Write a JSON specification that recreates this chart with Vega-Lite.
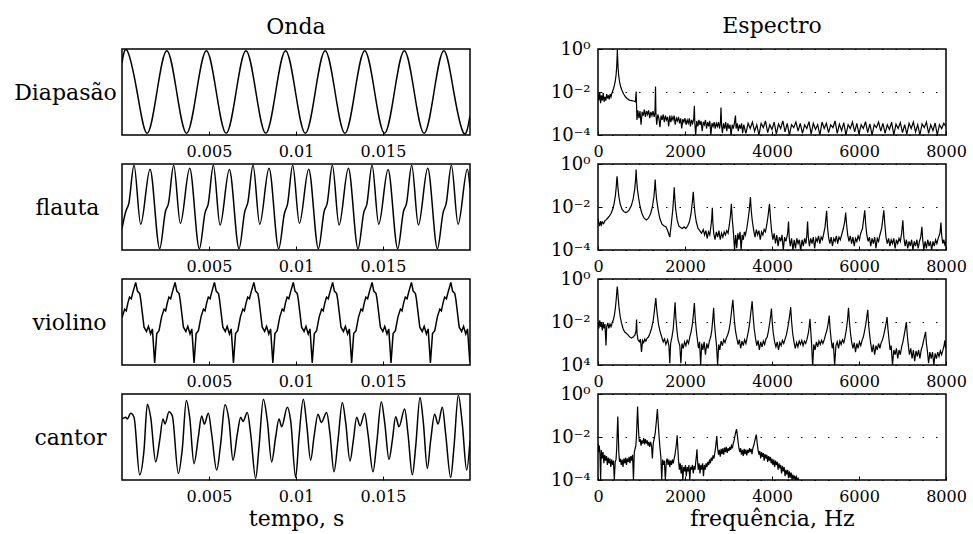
{
"$schema": "https://vega.github.io/schema/vega-lite/v6.json",
"background": "white",
"padding": {"left": 12, "top": 14, "right": 4, "bottom": 4},
"columns": 2,
"spacing": {"row": 29, "column": 128},
"bounds": "flush",
"config": {
 "font": "DejaVu Serif",
 "view": {"stroke": "black", "strokeWidth": 1.5},
 "axis": {"domain": false, "grid": false, "labelColor": "black", "labelFont": "DejaVu Serif", "labelFontSize": 16, "titleFont": "DejaVu Serif", "titleFontSize": 22, "titleFontWeight": "normal", "titleColor": "black", "tickColor": "black", "tickSize": -4, "tickWidth": 1, "labelFlush": false, "labelPadding": 12},
 "title": {"font": "DejaVu Serif", "fontSize": 22, "fontWeight": "normal", "color": "black"}
},
"datasets": {
 "diap": [{"ms":0,"y":0.67},{"ms":0.3,"y":0.96},{"ms":0.869,"y":0},{"ms":1.438,"y":-0.96},{"ms":2.006,"y":0},{"ms":2.575,"y":0.96},{"ms":3.144,"y":0},{"ms":3.713,"y":-0.96},{"ms":4.281,"y":0},{"ms":4.85,"y":0.96},{"ms":5.419,"y":0},{"ms":5.988,"y":-0.96},{"ms":6.556,"y":0},{"ms":7.125,"y":0.96},{"ms":7.694,"y":0},{"ms":8.263,"y":-0.96},{"ms":8.831,"y":0},{"ms":9.4,"y":0.96},{"ms":9.969,"y":0},{"ms":10.538,"y":-0.96},{"ms":11.106,"y":0},{"ms":11.675,"y":0.96},{"ms":12.244,"y":0},{"ms":12.813,"y":-0.96},{"ms":13.381,"y":0},{"ms":13.95,"y":0.96},{"ms":14.519,"y":0},{"ms":15.088,"y":-0.96},{"ms":15.656,"y":0},{"ms":16.225,"y":0.96},{"ms":16.794,"y":0},{"ms":17.363,"y":-0.96},{"ms":17.931,"y":0},{"ms":18.5,"y":0.96},{"ms":19.069,"y":0},{"ms":19.638,"y":-0.96},{"ms":20,"y":-0.55}],
 "flauta": [{"ms":0,"y":-0.5},{"ms":0.22,"y":-0.1},{"ms":0.39,"y":0.08},
  {"ms":0.69,"y":0.97},{"ms":1.075,"y":-0.4},{"ms":1.61,"y":0.88},{"ms":2.167,"y":-0.97},{"ms":2.5,"y":-0.1},{"ms":2.67,"y":0.08},
  {"ms":2.97,"y":0.97},{"ms":3.355,"y":-0.38},{"ms":3.89,"y":0.9},{"ms":4.447,"y":-0.97},{"ms":4.78,"y":-0.12},{"ms":4.95,"y":0.06},
  {"ms":5.25,"y":0.97},{"ms":5.635,"y":-0.42},{"ms":6.17,"y":0.87},{"ms":6.727,"y":-0.97},{"ms":7.06,"y":-0.1},{"ms":7.23,"y":0.1},
  {"ms":7.53,"y":0.97},{"ms":7.915,"y":-0.4},{"ms":8.45,"y":0.9},{"ms":9.007,"y":-0.97},{"ms":9.34,"y":-0.14},{"ms":9.51,"y":0.06},
  {"ms":9.81,"y":0.97},{"ms":10.195,"y":-0.38},{"ms":10.73,"y":0.88},{"ms":11.287,"y":-0.97},{"ms":11.62,"y":-0.1},{"ms":11.79,"y":0.08},
  {"ms":12.09,"y":0.97},{"ms":12.475,"y":-0.42},{"ms":13.01,"y":0.9},{"ms":13.567,"y":-0.97},{"ms":13.9,"y":-0.12},{"ms":14.07,"y":0.06},
  {"ms":14.37,"y":0.97},{"ms":14.755,"y":-0.4},{"ms":15.29,"y":0.87},{"ms":15.847,"y":-0.97},{"ms":16.18,"y":-0.1},{"ms":16.35,"y":0.08},
  {"ms":16.65,"y":0.97},{"ms":17.035,"y":-0.42},{"ms":17.57,"y":0.9},{"ms":18.127,"y":-0.97},{"ms":18.46,"y":-0.12},{"ms":18.63,"y":0.08},
  {"ms":18.93,"y":0.97},{"ms":19.315,"y":-0.4},{"ms":19.85,"y":0.88},{"ms":20,"y":0.45}],
 "violino": [{"ms":0,"y":0.1},{"ms":0.153,"y":0.3},{"ms":0.243,"y":0.26},{"ms":0.343,"y":0.45},{"ms":0.433,"y":0.58},{"ms":0.533,"y":0.54},{"ms":0.633,"y":0.7},
  {"ms":0.787,"y":0.92},{"ms":0.887,"y":0.72},{"ms":1.017,"y":0.66},{"ms":1.077,"y":0.52},{"ms":1.267,"y":-0.12},{"ms":1.407,"y":-0.22},{"ms":1.517,"y":-0.1},{"ms":1.647,"y":-0.28},{"ms":1.747,"y":-0.16},{"ms":1.877,"y":-0.95},{"ms":1.997,"y":-0.27},{"ms":2.127,"y":-0.2},{"ms":2.277,"y":0.12},{"ms":2.417,"y":0.3},{"ms":2.507,"y":0.26},{"ms":2.607,"y":0.45},{"ms":2.697,"y":0.58},{"ms":2.797,"y":0.54},{"ms":2.897,"y":0.7},
  {"ms":3.051,"y":0.92},{"ms":3.151,"y":0.72},{"ms":3.281,"y":0.66},{"ms":3.341,"y":0.52},{"ms":3.531,"y":-0.12},{"ms":3.671,"y":-0.22},{"ms":3.781,"y":-0.1},{"ms":3.911,"y":-0.28},{"ms":4.011,"y":-0.16},{"ms":4.141,"y":-0.95},{"ms":4.261,"y":-0.27},{"ms":4.391,"y":-0.2},{"ms":4.541,"y":0.12},{"ms":4.681,"y":0.3},{"ms":4.771,"y":0.26},{"ms":4.871,"y":0.45},{"ms":4.961,"y":0.58},{"ms":5.061,"y":0.54},{"ms":5.161,"y":0.7},
  {"ms":5.315,"y":0.92},{"ms":5.415,"y":0.72},{"ms":5.545,"y":0.66},{"ms":5.605,"y":0.52},{"ms":5.795,"y":-0.12},{"ms":5.935,"y":-0.22},{"ms":6.045,"y":-0.1},{"ms":6.175,"y":-0.28},{"ms":6.275,"y":-0.16},{"ms":6.405,"y":-0.95},{"ms":6.525,"y":-0.27},{"ms":6.655,"y":-0.2},{"ms":6.805,"y":0.12},{"ms":6.945,"y":0.3},{"ms":7.035,"y":0.26},{"ms":7.135,"y":0.45},{"ms":7.225,"y":0.58},{"ms":7.325,"y":0.54},{"ms":7.425,"y":0.7},
  {"ms":7.579,"y":0.92},{"ms":7.679,"y":0.72},{"ms":7.809,"y":0.66},{"ms":7.869,"y":0.52},{"ms":8.059,"y":-0.12},{"ms":8.199,"y":-0.22},{"ms":8.309,"y":-0.1},{"ms":8.439,"y":-0.28},{"ms":8.539,"y":-0.16},{"ms":8.669,"y":-0.95},{"ms":8.789,"y":-0.27},{"ms":8.919,"y":-0.2},{"ms":9.069,"y":0.12},{"ms":9.209,"y":0.3},{"ms":9.299,"y":0.26},{"ms":9.399,"y":0.45},{"ms":9.489,"y":0.58},{"ms":9.589,"y":0.54},{"ms":9.689,"y":0.7},
  {"ms":9.843,"y":0.92},{"ms":9.943,"y":0.72},{"ms":10.073,"y":0.66},{"ms":10.133,"y":0.52},{"ms":10.323,"y":-0.12},{"ms":10.463,"y":-0.22},{"ms":10.573,"y":-0.1},{"ms":10.703,"y":-0.28},{"ms":10.803,"y":-0.16},{"ms":10.933,"y":-0.95},{"ms":11.053,"y":-0.27},{"ms":11.183,"y":-0.2},{"ms":11.333,"y":0.12},{"ms":11.473,"y":0.3},{"ms":11.563,"y":0.26},{"ms":11.663,"y":0.45},{"ms":11.753,"y":0.58},{"ms":11.853,"y":0.54},{"ms":11.953,"y":0.7},
  {"ms":12.107,"y":0.92},{"ms":12.207,"y":0.72},{"ms":12.337,"y":0.66},{"ms":12.397,"y":0.52},{"ms":12.587,"y":-0.12},{"ms":12.727,"y":-0.22},{"ms":12.837,"y":-0.1},{"ms":12.967,"y":-0.28},{"ms":13.067,"y":-0.16},{"ms":13.197,"y":-0.95},{"ms":13.317,"y":-0.27},{"ms":13.447,"y":-0.2},{"ms":13.597,"y":0.12},{"ms":13.737,"y":0.3},{"ms":13.827,"y":0.26},{"ms":13.927,"y":0.45},{"ms":14.017,"y":0.58},{"ms":14.117,"y":0.54},{"ms":14.217,"y":0.7},
  {"ms":14.371,"y":0.92},{"ms":14.471,"y":0.72},{"ms":14.601,"y":0.66},{"ms":14.661,"y":0.52},{"ms":14.851,"y":-0.12},{"ms":14.991,"y":-0.22},{"ms":15.101,"y":-0.1},{"ms":15.231,"y":-0.28},{"ms":15.331,"y":-0.16},{"ms":15.461,"y":-0.95},{"ms":15.581,"y":-0.27},{"ms":15.711,"y":-0.2},{"ms":15.861,"y":0.12},{"ms":16.001,"y":0.3},{"ms":16.091,"y":0.26},{"ms":16.191,"y":0.45},{"ms":16.281,"y":0.58},{"ms":16.381,"y":0.54},{"ms":16.481,"y":0.7},
  {"ms":16.635,"y":0.92},{"ms":16.735,"y":0.72},{"ms":16.865,"y":0.66},{"ms":16.925,"y":0.52},{"ms":17.115,"y":-0.12},{"ms":17.255,"y":-0.22},{"ms":17.365,"y":-0.1},{"ms":17.495,"y":-0.28},{"ms":17.595,"y":-0.16},{"ms":17.725,"y":-0.95},{"ms":17.845,"y":-0.27},{"ms":17.975,"y":-0.2},{"ms":18.125,"y":0.12},{"ms":18.265,"y":0.3},{"ms":18.355,"y":0.26},{"ms":18.455,"y":0.45},{"ms":18.545,"y":0.58},{"ms":18.645,"y":0.54},{"ms":18.745,"y":0.7},
  {"ms":18.899,"y":0.92},{"ms":18.999,"y":0.72},{"ms":19.129,"y":0.66},{"ms":19.189,"y":0.52},{"ms":19.379,"y":-0.12},{"ms":19.519,"y":-0.22},{"ms":19.629,"y":-0.1},{"ms":19.759,"y":-0.28},{"ms":19.859,"y":-0.16},{"ms":19.989,"y":-0.93},{"ms":20,"y":-0.8}],
 "cantor": [{"ms":0,"y":0.42},{"ms":0.211,"y":0.46},{"ms":0.307,"y":0.42},{"ms":0.498,"y":0.55},{"ms":0.69,"y":0.46},{"ms":1.015,"y":-0.88},{"ms":1.264,"y":-0.31},{"ms":1.456,"y":0.76},{"ms":1.647,"y":0.46},{"ms":1.935,"y":-0.58},{"ms":2.165,"y":-0.08},{"ms":2.356,"y":0.42},{"ms":2.471,"y":0.3},{"ms":2.701,"y":0.59},{"ms":2.893,"y":0.49},{"ms":3.238,"y":-0.85},{"ms":3.467,"y":-0.27},{"ms":3.697,"y":0.85},{"ms":3.889,"y":0.46},{"ms":4.138,"y":-0.62},{"ms":4.387,"y":0},{"ms":4.579,"y":0.49},{"ms":4.732,"y":0.3},{"ms":4.962,"y":0.55},{"ms":5.153,"y":0.07},{"ms":5.441,"y":-0.77},{"ms":5.67,"y":-0.16},{"ms":5.92,"y":0.75},{"ms":6.149,"y":0.38},{"ms":6.379,"y":-0.54},{"ms":6.628,"y":0.07},{"ms":6.82,"y":0.46},{"ms":6.954,"y":0.36},{"ms":7.203,"y":0.57},{"ms":7.395,"y":0.07},{"ms":7.682,"y":-0.96},{"ms":7.874,"y":-0.23},{"ms":8.123,"y":0.88},{"ms":8.352,"y":0.38},{"ms":8.601,"y":-0.58},{"ms":8.831,"y":0},{"ms":9.023,"y":0.42},{"ms":9.176,"y":0.24},{"ms":9.502,"y":0.69},{"ms":9.693,"y":0.38},{"ms":9.981,"y":-0.94},{"ms":10.172,"y":0},{"ms":10.421,"y":0.88},{"ms":10.613,"y":0.3},{"ms":10.843,"y":-0.54},{"ms":11.034,"y":0},{"ms":11.264,"y":0.53},{"ms":11.456,"y":0.34},{"ms":11.762,"y":0.57},{"ms":11.954,"y":0.07},{"ms":12.184,"y":-0.81},{"ms":12.414,"y":-0.08},{"ms":12.663,"y":0.8},{"ms":12.854,"y":0.34},{"ms":13.103,"y":-0.56},{"ms":13.295,"y":-0.08},{"ms":13.487,"y":0.46},{"ms":13.678,"y":0.26},{"ms":13.946,"y":0.55},{"ms":14.138,"y":0.07},{"ms":14.425,"y":-0.81},{"ms":14.636,"y":-0.16},{"ms":14.904,"y":0.82},{"ms":15.096,"y":0.34},{"ms":15.345,"y":-0.52},{"ms":15.536,"y":-0.08},{"ms":15.728,"y":0.47},{"ms":15.919,"y":0.24},{"ms":16.245,"y":0.65},{"ms":16.437,"y":0.07},{"ms":16.686,"y":-0.88},{"ms":16.877,"y":-0.23},{"ms":17.126,"y":0.92},{"ms":17.318,"y":0.34},{"ms":17.548,"y":-0.73},{"ms":17.739,"y":-0.08},{"ms":17.969,"y":0.53},{"ms":18.161,"y":0.3},{"ms":18.41,"y":0.69},{"ms":18.601,"y":0.07},{"ms":18.889,"y":-0.94},{"ms":19.08,"y":-0.23},{"ms":19.329,"y":0.97},{"ms":19.559,"y":0.3},{"ms":19.808,"y":-0.77},{"ms":20,"y":-0.08}],
 "esp1": [{"f":0,"a":8e-3},{"f":20,"a":4e-3},{"f":40,"a":1e-2},{"f":60,"a":3e-3},{"f":80,"a":7e-3},{"f":100,"a":4e-3},{"f":120,"a":9e-3},{"f":140,"a":3.5e-3},{"f":160,"a":6e-3},{"f":180,"a":4e-3},{"f":200,"a":8e-3},{"f":220,"a":5e-3},{"f":240,"a":7e-3},{"f":260,"a":4.5e-3},{"f":280,"a":8e-3},{"f":300,"a":6e-3},{"f":320,"a":9e-3},{"f":345,"a":1.2e-2},{"f":370,"a":1.8e-2},{"f":395,"a":3e-2},{"f":415,"a":6e-2},{"f":428,"a":0.13},{"f":438,"a":0.35},{"f":445,"a":0.95},{"f":452,"a":0.35},{"f":462,"a":0.13},{"f":475,"a":6e-2},{"f":495,"a":3e-2},{"f":520,"a":1.8e-2},{"f":550,"a":1.2e-2},{"f":590,"a":8e-3},{"f":630,"a":6e-3},{"f":670,"a":5e-3},{"f":720,"a":4.2e-3},{"f":770,"a":4e-3},{"f":820,"a":3.8e-3},{"f":860,"a":3.5e-3},{"f":878,"a":1.05e-2},{"f":885,"a":3e-3},{"f":895,"a":5e-4},{"f":915,"a":1.4e-3},{"f":940,"a":6e-4},{"f":965,"a":1.3e-3},{"f":990,"a":3e-4},{"f":1015,"a":1.2e-3},{"f":1040,"a":8e-4},{"f":1065,"a":1.5e-3},{"f":1090,"a":7e-4},{"f":1115,"a":1.3e-3},{"f":1140,"a":9e-4},{"f":1165,"a":1.4e-3},{"f":1190,"a":6e-4},{"f":1215,"a":1.2e-3},{"f":1240,"a":8e-4},{"f":1265,"a":1.3e-3},{"f":1290,"a":7e-4},{"f":1310,"a":1.1e-3},{"f":1322,"a":1.8e-2},{"f":1332,"a":1e-3},{"f":1350,"a":3e-4},{"f":1375,"a":9e-4},{"f":1400,"a":6e-4},{"f":1425,"a":2.3e-4},{"f":1450,"a":8e-4},{"f":1475,"a":5e-4},{"f":1500,"a":9e-4},{"f":1525,"a":4e-4},{"f":1550,"a":8e-4},{"f":1575,"a":5e-4},{"f":1600,"a":7e-4},{"f":1625,"a":2.5e-4},{"f":1650,"a":8e-4},{"f":1675,"a":4e-4},{"f":1700,"a":7e-4},{"f":1725,"a":5e-4},{"f":1750,"a":8e-4},{"f":1775,"a":3e-4},{"f":1800,"a":6e-4},{"f":1825,"a":4.5e-4},{"f":1850,"a":7e-4},{"f":1875,"a":3.5e-4},{"f":1900,"a":6e-4},{"f":1925,"a":2e-4},{"f":1950,"a":5.5e-4},{"f":1975,"a":4e-4},{"f":2000,"a":6e-4},{"f":2025,"a":3e-4},{"f":2050,"a":5e-4},{"f":2075,"a":3.5e-4},{"f":2100,"a":6e-4},{"f":2125,"a":2.5e-4},{"f":2150,"a":5e-4},{"f":2175,"a":3.5e-4},{"f":2200,"a":5.5e-4},{"f":2215,"a":2.3e-3},{"f":2225,"a":4e-4},{"f":2245,"a":1e-4},{"f":2270,"a":4.5e-4},{"f":2295,"a":2.5e-4},{"f":2320,"a":5e-4},{"f":2345,"a":3e-4},{"f":2370,"a":4.5e-4},{"f":2395,"a":1.5e-4},{"f":2420,"a":4e-4},{"f":2445,"a":3e-4},{"f":2470,"a":5e-4},{"f":2495,"a":2e-4},{"f":2520,"a":4e-4},{"f":2545,"a":2.5e-4},{"f":2570,"a":4.5e-4},{"f":2595,"a":1e-4},{"f":2620,"a":3.5e-4},{"f":2645,"a":2.5e-4},{"f":2670,"a":4e-4},{"f":2695,"a":2e-4},{"f":2720,"a":3.5e-4},{"f":2745,"a":2.5e-4},{"f":2770,"a":4e-4},{"f":2795,"a":2e-4},{"f":2815,"a":4e-4},{"f":2828,"a":1.9e-3},{"f":2840,"a":3e-4},{"f":2860,"a":1.2e-4},{"f":2885,"a":3.5e-4},{"f":2910,"a":2e-4},{"f":2935,"a":4e-4},{"f":2960,"a":1.5e-4},{"f":2985,"a":3.5e-4},{"f":3010,"a":2e-4},{"f":3035,"a":3e-4},{"f":3060,"a":9e-5},{"f":3085,"a":3e-4},{"f":3110,"a":2e-4},{"f":3135,"a":3.5e-4},{"f":3160,"a":8e-4},{"f":3175,"a":2e-4},{"f":3200,"a":3.5e-4},{"f":3225,"a":1.5e-4},{"f":3250,"a":3e-4},{"f":3275,"a":2e-4},{"f":3300,"a":3.5e-4},{"f":3325,"a":1.2e-4},{"f":3350,"a":3e-4},{"f":3400,"a":1.2e-4},{"f":3450,"a":3.5e-4},{"f":3500,"a":2e-4},{"f":3550,"a":4e-4},{"f":3600,"a":1.5e-4},{"f":3650,"a":3e-4},{"f":3700,"a":1e-4},{"f":3750,"a":3.5e-4},{"f":3800,"a":2.2e-4},{"f":3850,"a":4.5e-4},{"f":3900,"a":1.3e-4},{"f":3950,"a":3e-4},{"f":4000,"a":1.8e-4},{"f":4050,"a":4e-4},{"f":4100,"a":1.1e-4},{"f":4150,"a":3.2e-4},{"f":4200,"a":2e-4},{"f":4250,"a":4.5e-4},{"f":4300,"a":1.4e-4},{"f":4350,"a":3.5e-4},{"f":4400,"a":1e-4},{"f":4450,"a":3e-4},{"f":4500,"a":2.2e-4},{"f":4550,"a":4e-4},{"f":4600,"a":1.5e-4},{"f":4650,"a":3.5e-4},{"f":4700,"a":1.2e-4},{"f":4750,"a":3e-4},{"f":4800,"a":2e-4},{"f":4850,"a":4.2e-4},{"f":4900,"a":1.1e-4},{"f":4950,"a":3.5e-4},{"f":5000,"a":1.8e-4},{"f":5050,"a":3e-4},{"f":5100,"a":1e-4},{"f":5150,"a":4e-4},{"f":5200,"a":2e-4},{"f":5250,"a":3.5e-4},{"f":5300,"a":1.3e-4},{"f":5350,"a":3e-4},{"f":5400,"a":2.2e-4},{"f":5450,"a":4.5e-4},{"f":5500,"a":1.2e-4},{"f":5550,"a":3.2e-4},{"f":5600,"a":1.6e-4},{"f":5650,"a":3.8e-4},{"f":5700,"a":1e-4},{"f":5750,"a":3e-4},{"f":5800,"a":2e-4},{"f":5850,"a":4e-4},{"f":5900,"a":1.4e-4},{"f":5950,"a":3.5e-4},{"f":6000,"a":1.1e-4},{"f":6050,"a":3e-4},{"f":6100,"a":2e-4},{"f":6150,"a":4.2e-4},{"f":6200,"a":1.3e-4},{"f":6250,"a":3.3e-4},{"f":6300,"a":1e-4},{"f":6350,"a":3e-4},{"f":6400,"a":2.2e-4},{"f":6450,"a":4e-4},{"f":6500,"a":1.5e-4},{"f":6550,"a":3.5e-4},{"f":6600,"a":1.2e-4},{"f":6650,"a":3e-4},{"f":6700,"a":1.8e-4},{"f":6750,"a":4e-4},{"f":6800,"a":1e-4},{"f":6850,"a":3.2e-4},{"f":6900,"a":2e-4},{"f":6950,"a":3.8e-4},{"f":7000,"a":1.3e-4},{"f":7050,"a":3e-4},{"f":7100,"a":1.1e-4},{"f":7150,"a":3.5e-4},{"f":7200,"a":2e-4},{"f":7250,"a":4e-4},{"f":7300,"a":1.4e-4},{"f":7350,"a":3e-4},{"f":7400,"a":1e-4},{"f":7450,"a":3.3e-4},{"f":7500,"a":2.2e-4},{"f":7550,"a":4e-4},{"f":7600,"a":1.2e-4},{"f":7650,"a":3e-4},{"f":7700,"a":1.6e-4},{"f":7750,"a":3.6e-4},{"f":7800,"a":1e-4},{"f":7850,"a":3e-4},{"f":7900,"a":2e-4},{"f":7950,"a":3.5e-4},{"f":8000,"a":2.5e-4}],
 "esp2": [{"f":0,"a":3e-3},{"f":20,"a":1.8e-3},{"f":40,"a":1.3e-3},{"f":60,"a":2.2e-3},{"f":80,"a":1.5e-3},{"f":100,"a":2e-3},{"f":130,"a":1.7e-3},{"f":160,"a":2.3e-3},{"f":190,"a":2.6e-3},{"f":220,"a":3e-3},{"f":260,"a":3.8e-3},{"f":300,"a":5e-3},{"f":340,"a":8e-3},{"f":375,"a":1.6e-2},{"f":400,"a":3.5e-2},{"f":418,"a":8e-2},{"f":430,"a":0.18},{"f":438,"a":0.27},{"f":446,"a":0.18},{"f":458,"a":8e-2},{"f":480,"a":3e-2},{"f":510,"a":1.4e-2},{"f":550,"a":8e-3},{"f":600,"a":6e-3},{"f":640,"a":5.5e-3},{"f":680,"a":6e-3},{"f":720,"a":7.5e-3},{"f":770,"a":1.2e-2},{"f":810,"a":2.5e-2},{"f":845,"a":7e-2},{"f":865,"a":0.2},{"f":876,"a":0.55},{"f":887,"a":0.2},{"f":905,"a":7e-2},{"f":935,"a":2.5e-2},{"f":970,"a":1e-2},{"f":1010,"a":5e-3},{"f":1060,"a":3e-3},{"f":1110,"a":2.5e-3},{"f":1160,"a":3e-3},{"f":1210,"a":5e-3},{"f":1250,"a":1e-2},{"f":1285,"a":3e-2},{"f":1303,"a":8e-2},{"f":1314,"a":0.19},{"f":1325,"a":8e-2},{"f":1345,"a":2.5e-2},{"f":1380,"a":8e-3},{"f":1420,"a":3e-3},{"f":1470,"a":1.6e-3},{"f":1520,"a":1.3e-3},{"f":1560,"a":1.2e-3},{"f":1600,"a":8e-4},{"f":1650,"a":4e-4},{"f":1690,"a":2e-3},{"f":1720,"a":8e-3},{"f":1740,"a":3e-2},{"f":1752,"a":8.3e-2},{"f":1764,"a":3e-2},{"f":1785,"a":8e-3},{"f":1820,"a":2.5e-3},{"f":1860,"a":1.3e-3},{"f":1900,"a":1.1e-3},{"f":1940,"a":1e-3},{"f":1980,"a":1.2e-3},{"f":2020,"a":1e-3},{"f":2060,"a":1.3e-3},{"f":2100,"a":2e-3},{"f":2140,"a":5e-3},{"f":2170,"a":1.8e-2},{"f":2190,"a":5.1e-2},{"f":2205,"a":1.8e-2},{"f":2230,"a":5e-3},{"f":2260,"a":2e-3},{"f":2300,"a":1e-3},{"f":2340,"a":8e-4},{"f":2380,"a":6e-4},{"f":2420,"a":9e-4},{"f":2450,"a":5e-4},{"f":2480,"a":8e-4},{"f":2510,"a":3.5e-4},{"f":2540,"a":7e-4},{"f":2570,"a":5e-4},{"f":2600,"a":1.5e-3},{"f":2615,"a":3e-3},{"f":2628,"a":9.3e-3},{"f":2640,"a":2e-3},{"f":2660,"a":6e-4},{"f":2690,"a":3e-4},{"f":2720,"a":7e-4},{"f":2750,"a":4e-4},{"f":2780,"a":8e-4},{"f":2810,"a":3e-4},{"f":2840,"a":6e-4},{"f":2870,"a":4e-4},{"f":2900,"a":7e-4},{"f":2930,"a":5e-4},{"f":2960,"a":8e-4},{"f":2990,"a":6e-4},{"f":3020,"a":1.5e-3},{"f":3045,"a":4e-3},{"f":3066,"a":1.4e-2},{"f":3085,"a":3e-3},{"f":3110,"a":8e-4},{"f":3140,"a":1e-4},{"f":3165,"a":5e-4},{"f":3190,"a":1.2e-4},{"f":3215,"a":6e-4},{"f":3240,"a":3e-4},{"f":3265,"a":7e-4},{"f":3290,"a":1e-4},{"f":3315,"a":5e-4},{"f":3340,"a":3e-4},{"f":3365,"a":7e-4},{"f":3390,"a":5e-4},{"f":3420,"a":1e-3},{"f":3455,"a":3e-3},{"f":3480,"a":8e-3},{"f":3504,"a":2.9e-2},{"f":3525,"a":6e-3},{"f":3550,"a":2e-3},{"f":3580,"a":8e-4},{"f":3610,"a":4e-4},{"f":3640,"a":9e-4},{"f":3670,"a":5e-4},{"f":3700,"a":8e-4},{"f":3730,"a":3e-4},{"f":3760,"a":7e-4},{"f":3790,"a":5e-4},{"f":3820,"a":9e-4},{"f":3850,"a":7e-4},{"f":3880,"a":1.5e-3},{"f":3910,"a":4e-3},{"f":3942,"a":1.4e-2},{"f":3965,"a":3e-3},{"f":3990,"a":8e-4},{"f":4020,"a":3e-4},{"f":4050,"a":6e-4},{"f":4080,"a":2e-4},{"f":4110,"a":5e-4},{"f":4140,"a":1.5e-4},{"f":4170,"a":4e-4},{"f":4200,"a":2.5e-4},{"f":4230,"a":5e-4},{"f":4260,"a":1e-4},{"f":4290,"a":4e-4},{"f":4320,"a":2.5e-4},{"f":4360,"a":6e-4},{"f":4380,"a":2.1e-3},{"f":4395,"a":4e-4},{"f":4420,"a":1.5e-4},{"f":4450,"a":3.5e-4},{"f":4480,"a":1e-4},{"f":4510,"a":3e-4},{"f":4540,"a":1.2e-4},{"f":4570,"a":3.5e-4},{"f":4600,"a":2e-4},{"f":4630,"a":3e-4},{"f":4660,"a":9e-5},{"f":4690,"a":3e-4},{"f":4720,"a":1.5e-4},{"f":4750,"a":3.5e-4},{"f":4780,"a":2e-4},{"f":4800,"a":5e-4},{"f":4818,"a":2.1e-3},{"f":4835,"a":4e-4},{"f":4860,"a":1.5e-4},{"f":4890,"a":3.5e-4},{"f":4920,"a":2e-4},{"f":4950,"a":4e-4},{"f":4980,"a":1.2e-4},{"f":5010,"a":3.5e-4},{"f":5040,"a":2.5e-4},{"f":5070,"a":4.5e-4},{"f":5100,"a":2e-4},{"f":5130,"a":4e-4},{"f":5160,"a":3e-4},{"f":5190,"a":6e-4},{"f":5220,"a":1.2e-3},{"f":5256,"a":6.6e-3},{"f":5275,"a":1.2e-3},{"f":5300,"a":4e-4},{"f":5330,"a":2e-4},{"f":5360,"a":4e-4},{"f":5390,"a":1.5e-4},{"f":5420,"a":3.5e-4},{"f":5450,"a":2.5e-4},{"f":5480,"a":4.5e-4},{"f":5510,"a":2e-4},{"f":5540,"a":4e-4},{"f":5570,"a":3e-4},{"f":5600,"a":5e-4},{"f":5640,"a":1e-3},{"f":5670,"a":2e-3},{"f":5694,"a":5.5e-3},{"f":5715,"a":1.5e-3},{"f":5740,"a":5e-4},{"f":5770,"a":2.5e-4},{"f":5800,"a":4.5e-4},{"f":5830,"a":2e-4},{"f":5860,"a":4e-4},{"f":5890,"a":1.5e-4},{"f":5920,"a":3.5e-4},{"f":5950,"a":2.5e-4},{"f":5980,"a":4.5e-4},{"f":6010,"a":3e-4},{"f":6040,"a":6e-4},{"f":6080,"a":1e-3},{"f":6105,"a":2.5e-3},{"f":6132,"a":7e-3},{"f":6155,"a":1.5e-3},{"f":6180,"a":5e-4},{"f":6210,"a":2.5e-4},{"f":6240,"a":4e-4},{"f":6270,"a":1.5e-4},{"f":6300,"a":3.5e-4},{"f":6330,"a":2e-4},{"f":6360,"a":4e-4},{"f":6390,"a":1.2e-4},{"f":6420,"a":3.5e-4},{"f":6450,"a":2.5e-4},{"f":6480,"a":5e-4},{"f":6520,"a":1e-3},{"f":6545,"a":2.5e-3},{"f":6570,"a":7e-3},{"f":6595,"a":1.5e-3},{"f":6620,"a":4e-4},{"f":6650,"a":2e-4},{"f":6680,"a":3.5e-4},{"f":6710,"a":1.5e-4},{"f":6740,"a":3e-4},{"f":6770,"a":2e-4},{"f":6800,"a":3.5e-4},{"f":6830,"a":1.2e-4},{"f":6860,"a":3e-4},{"f":6890,"a":2e-4},{"f":6920,"a":3.5e-4},{"f":6950,"a":2.5e-4},{"f":6980,"a":6e-4},{"f":7008,"a":2.4e-3},{"f":7030,"a":4e-4},{"f":7060,"a":1.5e-4},{"f":7090,"a":3e-4},{"f":7120,"a":1.2e-4},{"f":7150,"a":2.5e-4},{"f":7180,"a":1.5e-4},{"f":7210,"a":3e-4},{"f":7240,"a":1e-4},{"f":7270,"a":2.5e-4},{"f":7300,"a":1.5e-4},{"f":7330,"a":3e-4},{"f":7360,"a":1.2e-4},{"f":7390,"a":2.5e-4},{"f":7420,"a":4e-4},{"f":7446,"a":1.2e-3},{"f":7465,"a":3e-4},{"f":7490,"a":1e-4},{"f":7520,"a":2.5e-4},{"f":7550,"a":1.2e-4},{"f":7580,"a":3e-4},{"f":7610,"a":1.5e-4},{"f":7640,"a":2.5e-4},{"f":7670,"a":1e-4},{"f":7700,"a":2.5e-4},{"f":7730,"a":1.5e-4},{"f":7760,"a":3e-4},{"f":7790,"a":2e-4},{"f":7820,"a":3.5e-4},{"f":7860,"a":6e-4},{"f":7884,"a":1.9e-3},{"f":7900,"a":5e-4},{"f":7925,"a":2e-4},{"f":7950,"a":3e-4},{"f":7980,"a":1.5e-4},{"f":8000,"a":2.5e-4}],
 "esp3": [{"f":0,"a":1e-2},{"f":20,"a":5e-3},{"f":40,"a":1.2e-2},{"f":60,"a":6e-3},{"f":80,"a":9e-3},{"f":100,"a":4e-3},{"f":120,"a":1e-2},{"f":140,"a":5e-3},{"f":160,"a":8e-3},{"f":184,"a":8e-4},{"f":200,"a":6e-3},{"f":225,"a":9e-3},{"f":250,"a":5e-3},{"f":275,"a":8e-3},{"f":300,"a":6e-3},{"f":325,"a":9e-3},{"f":350,"a":1.2e-2},{"f":375,"a":2e-2},{"f":400,"a":4.5e-2},{"f":420,"a":0.12},{"f":435,"a":0.3},{"f":443,"a":0.45},{"f":451,"a":0.3},{"f":466,"a":0.12},{"f":485,"a":4.5e-2},{"f":510,"a":1.8e-2},{"f":540,"a":9e-3},{"f":575,"a":5e-3},{"f":610,"a":3.5e-3},{"f":650,"a":3e-3},{"f":690,"a":2.5e-3},{"f":730,"a":2e-3},{"f":770,"a":1.8e-3},{"f":810,"a":2e-3},{"f":850,"a":2.5e-3},{"f":875,"a":4e-3},{"f":886,"a":1.3e-2},{"f":897,"a":3e-3},{"f":920,"a":1.5e-3},{"f":950,"a":1.2e-3},{"f":975,"a":1.6e-3},{"f":1000,"a":4e-4},{"f":1025,"a":1.4e-3},{"f":1050,"a":1.1e-3},{"f":1075,"a":1.6e-3},{"f":1100,"a":1.3e-3},{"f":1130,"a":1.8e-3},{"f":1160,"a":2e-3},{"f":1195,"a":3e-3},{"f":1230,"a":5e-3},{"f":1265,"a":1e-2},{"f":1290,"a":2.5e-2},{"f":1310,"a":6e-2},{"f":1329,"a":0.13},{"f":1345,"a":5e-2},{"f":1365,"a":2e-2},{"f":1395,"a":7e-3},{"f":1430,"a":3.5e-3},{"f":1465,"a":2e-3},{"f":1500,"a":1.2e-3},{"f":1530,"a":1.6e-3},{"f":1560,"a":9e-4},{"f":1600,"a":1.5e-3},{"f":1630,"a":8e-4},{"f":1650,"a":1.2e-4},{"f":1670,"a":1e-3},{"f":1700,"a":2e-3},{"f":1730,"a":5e-3},{"f":1752,"a":2e-2},{"f":1772,"a":8.3e-2},{"f":1790,"a":1.5e-2},{"f":1815,"a":4e-3},{"f":1840,"a":1.5e-3},{"f":1880,"a":8e-4},{"f":1905,"a":1.2e-4},{"f":1930,"a":1e-3},{"f":1960,"a":6e-4},{"f":1990,"a":1.2e-3},{"f":2020,"a":8e-4},{"f":2050,"a":1.4e-3},{"f":2080,"a":1e-3},{"f":2110,"a":2e-3},{"f":2140,"a":3.5e-3},{"f":2170,"a":8e-3},{"f":2195,"a":2.5e-2},{"f":2215,"a":7.6e-2},{"f":2235,"a":1.5e-2},{"f":2260,"a":4e-3},{"f":2285,"a":1.5e-3},{"f":2310,"a":6e-4},{"f":2335,"a":1.2e-3},{"f":2360,"a":1e-4},{"f":2385,"a":1e-3},{"f":2410,"a":5e-4},{"f":2440,"a":1.2e-3},{"f":2470,"a":3e-4},{"f":2500,"a":1e-3},{"f":2530,"a":6e-4},{"f":2560,"a":1.3e-3},{"f":2590,"a":2e-3},{"f":2615,"a":4e-3},{"f":2640,"a":1.5e-2},{"f":2658,"a":4.6e-2},{"f":2675,"a":1e-2},{"f":2700,"a":2.5e-3},{"f":2725,"a":8e-4},{"f":2750,"a":1e-4},{"f":2775,"a":9e-4},{"f":2800,"a":5e-4},{"f":2830,"a":1.3e-3},{"f":2860,"a":8e-4},{"f":2890,"a":1.5e-3},{"f":2920,"a":1.1e-3},{"f":2950,"a":1.8e-3},{"f":2980,"a":2.5e-3},{"f":3010,"a":4e-3},{"f":3040,"a":9e-3},{"f":3065,"a":2.5e-2},{"f":3085,"a":6e-2},{"f":3101,"a":0.107},{"f":3115,"a":4e-2},{"f":3135,"a":1.2e-2},{"f":3160,"a":4e-3},{"f":3190,"a":1.8e-3},{"f":3220,"a":9e-4},{"f":3250,"a":1.5e-3},{"f":3280,"a":6e-4},{"f":3310,"a":1.3e-3},{"f":3340,"a":8e-4},{"f":3370,"a":1.5e-3},{"f":3400,"a":1e-3},{"f":3430,"a":2e-3},{"f":3460,"a":4e-3},{"f":3490,"a":1e-2},{"f":3515,"a":3e-2},{"f":3544,"a":9.3e-2},{"f":3565,"a":2e-2},{"f":3590,"a":5e-3},{"f":3620,"a":1.8e-3},{"f":3650,"a":8e-4},{"f":3680,"a":1.4e-3},{"f":3710,"a":5e-4},{"f":3740,"a":1.2e-3},{"f":3770,"a":7e-4},{"f":3800,"a":1.3e-3},{"f":3830,"a":9e-4},{"f":3860,"a":1.6e-3},{"f":3890,"a":2e-3},{"f":3920,"a":4e-3},{"f":3950,"a":1e-2},{"f":3970,"a":2e-2},{"f":3987,"a":4.2e-2},{"f":4005,"a":1e-2},{"f":4030,"a":3e-3},{"f":4060,"a":1.2e-3},{"f":4090,"a":7e-4},{"f":4120,"a":1.2e-3},{"f":4150,"a":5e-4},{"f":4180,"a":1.1e-3},{"f":4210,"a":8e-4},{"f":4240,"a":1.4e-3},{"f":4270,"a":1e-3},{"f":4300,"a":1.6e-3},{"f":4330,"a":2.5e-3},{"f":4360,"a":5e-3},{"f":4390,"a":1.2e-2},{"f":4412,"a":2.5e-2},{"f":4430,"a":4.9e-2},{"f":4448,"a":1.2e-2},{"f":4475,"a":3e-3},{"f":4505,"a":1.2e-3},{"f":4535,"a":6e-4},{"f":4565,"a":1.1e-3},{"f":4595,"a":7e-4},{"f":4625,"a":1.3e-3},{"f":4655,"a":9e-4},{"f":4685,"a":1.4e-3},{"f":4715,"a":8e-4},{"f":4745,"a":1.3e-3},{"f":4775,"a":1e-3},{"f":4805,"a":1.6e-3},{"f":4835,"a":3e-3},{"f":4855,"a":6e-3},{"f":4873,"a":1.4e-2},{"f":4890,"a":4e-3},{"f":4910,"a":1e-3},{"f":4935,"a":8e-5},{"f":4960,"a":9e-4},{"f":4990,"a":5e-4},{"f":5020,"a":1.2e-3},{"f":5050,"a":7e-4},{"f":5080,"a":1.3e-3},{"f":5110,"a":9e-4},{"f":5140,"a":1.4e-3},{"f":5170,"a":1e-3},{"f":5200,"a":1.5e-3},{"f":5230,"a":2.5e-3},{"f":5260,"a":4e-3},{"f":5290,"a":8e-3},{"f":5316,"a":2e-2},{"f":5335,"a":5e-3},{"f":5360,"a":1.5e-3},{"f":5385,"a":6e-4},{"f":5410,"a":1.1e-3},{"f":5440,"a":1e-4},{"f":5470,"a":8e-4},{"f":5500,"a":1.2e-3},{"f":5530,"a":6e-4},{"f":5560,"a":1.3e-3},{"f":5590,"a":9e-4},{"f":5620,"a":1.5e-3},{"f":5650,"a":1.1e-3},{"f":5680,"a":2e-3},{"f":5710,"a":4.5e-3},{"f":5735,"a":1.2e-2},{"f":5759,"a":4.6e-2},{"f":5780,"a":1e-2},{"f":5805,"a":3e-3},{"f":5830,"a":1.2e-3},{"f":5860,"a":6e-4},{"f":5890,"a":1.1e-3},{"f":5920,"a":4e-4},{"f":5950,"a":1e-3},{"f":5980,"a":6e-4},{"f":6010,"a":1.2e-3},{"f":6040,"a":8e-4},{"f":6070,"a":1.4e-3},{"f":6100,"a":2e-3},{"f":6130,"a":4e-3},{"f":6160,"a":9e-3},{"f":6180,"a":1.8e-2},{"f":6202,"a":3.7e-2},{"f":6220,"a":8e-3},{"f":6245,"a":2.5e-3},{"f":6270,"a":1e-3},{"f":6300,"a":4e-4},{"f":6330,"a":9e-4},{"f":6360,"a":3e-4},{"f":6390,"a":8e-4},{"f":6420,"a":5e-4},{"f":6450,"a":1e-3},{"f":6480,"a":6e-4},{"f":6510,"a":1.1e-3},{"f":6540,"a":1.5e-3},{"f":6570,"a":2.5e-3},{"f":6600,"a":5e-3},{"f":6625,"a":9e-3},{"f":6645,"a":1.7e-2},{"f":6665,"a":5e-3},{"f":6690,"a":1.5e-3},{"f":6715,"a":5e-4},{"f":6740,"a":8e-4},{"f":6770,"a":1e-4},{"f":6800,"a":5e-4},{"f":6830,"a":3e-4},{"f":6860,"a":6e-4},{"f":6890,"a":2e-4},{"f":6920,"a":5e-4},{"f":6950,"a":3e-4},{"f":6980,"a":7e-4},{"f":7010,"a":1.2e-3},{"f":7040,"a":2.5e-3},{"f":7065,"a":5e-3},{"f":7088,"a":1e-2},{"f":7110,"a":2.5e-3},{"f":7135,"a":8e-4},{"f":7160,"a":3e-4},{"f":7190,"a":6e-4},{"f":7220,"a":2e-4},{"f":7250,"a":5e-4},{"f":7280,"a":1.5e-4},{"f":7310,"a":4.5e-4},{"f":7340,"a":2.5e-4},{"f":7370,"a":5e-4},{"f":7400,"a":2e-4},{"f":7430,"a":5e-4},{"f":7460,"a":8e-4},{"f":7490,"a":1.5e-3},{"f":7515,"a":2.5e-3},{"f":7531,"a":3.5e-3},{"f":7550,"a":1e-3},{"f":7575,"a":4e-4},{"f":7600,"a":1.2e-4},{"f":7630,"a":4e-4},{"f":7660,"a":2e-4},{"f":7690,"a":4e-4},{"f":7720,"a":1e-4},{"f":7750,"a":3.5e-4},{"f":7780,"a":2e-4},{"f":7810,"a":4e-4},{"f":7840,"a":2.5e-4},{"f":7870,"a":4.5e-4},{"f":7900,"a":3e-4},{"f":7930,"a":5e-4},{"f":7955,"a":8e-4},{"f":7974,"a":1.4e-3},{"f":7990,"a":6e-4},{"f":8000,"a":8e-4}],
 "esp4": [{"f":0,"a":5e-3},{"f":15,"a":2e-3},{"f":30,"a":4e-3},{"f":45,"a":1.5e-3},{"f":60,"a":1e-4},{"f":75,"a":2.5e-3},{"f":95,"a":1e-3},{"f":115,"a":2e-3},{"f":135,"a":6e-4},{"f":155,"a":1.5e-3},{"f":175,"a":8e-4},{"f":195,"a":1.3e-3},{"f":215,"a":5e-4},{"f":235,"a":1.1e-3},{"f":255,"a":6e-4},{"f":275,"a":1e-3},{"f":295,"a":4e-4},{"f":315,"a":9e-4},{"f":335,"a":5e-4},{"f":355,"a":8e-4},{"f":375,"a":1e-4},{"f":395,"a":7e-4},{"f":415,"a":9e-4},{"f":430,"a":3e-3},{"f":445,"a":2.5e-2},{"f":455,"a":9e-2},{"f":465,"a":2e-2},{"f":478,"a":2e-3},{"f":495,"a":7e-4},{"f":515,"a":1e-3},{"f":535,"a":5e-4},{"f":555,"a":9e-4},{"f":575,"a":4e-4},{"f":595,"a":1e-3},{"f":615,"a":6e-4},{"f":635,"a":1.1e-3},{"f":655,"a":5e-4},{"f":675,"a":1e-3},{"f":695,"a":7e-4},{"f":715,"a":1.2e-3},{"f":735,"a":6e-4},{"f":755,"a":1.3e-3},{"f":775,"a":8e-4},{"f":795,"a":1.5e-3},{"f":815,"a":1e-4},{"f":835,"a":2e-3},{"f":855,"a":3e-3},{"f":870,"a":4e-3},{"f":885,"a":1.2e-2},{"f":898,"a":6e-2},{"f":910,"a":0.26},{"f":922,"a":6e-2},{"f":935,"a":1.5e-2},{"f":950,"a":6e-3},{"f":970,"a":8e-3},{"f":990,"a":4e-3},{"f":1010,"a":7e-3},{"f":1030,"a":5e-3},{"f":1050,"a":9e-3},{"f":1070,"a":4.5e-3},{"f":1090,"a":8e-3},{"f":1110,"a":5e-3},{"f":1130,"a":7e-3},{"f":1150,"a":4e-3},{"f":1170,"a":6e-3},{"f":1190,"a":3.5e-3},{"f":1210,"a":6e-3},{"f":1230,"a":4e-3},{"f":1250,"a":1e-3},{"f":1270,"a":5e-3},{"f":1290,"a":8e-3},{"f":1315,"a":1.5e-2},{"f":1340,"a":5e-2},{"f":1365,"a":0.2},{"f":1385,"a":4e-2},{"f":1405,"a":1e-2},{"f":1425,"a":3e-3},{"f":1445,"a":1.2e-3},{"f":1465,"a":1e-4},{"f":1485,"a":9e-4},{"f":1505,"a":5e-4},{"f":1525,"a":8e-4},{"f":1548,"a":1e-4},{"f":1570,"a":7e-4},{"f":1590,"a":1e-3},{"f":1610,"a":5e-4},{"f":1630,"a":9e-4},{"f":1650,"a":4e-4},{"f":1670,"a":8e-4},{"f":1690,"a":5e-4},{"f":1710,"a":9e-4},{"f":1730,"a":6e-4},{"f":1750,"a":1e-3},{"f":1770,"a":1.5e-3},{"f":1790,"a":3e-3},{"f":1808,"a":6e-3},{"f":1820,"a":1.2e-2},{"f":1832,"a":4e-3},{"f":1850,"a":9e-4},{"f":1870,"a":3e-4},{"f":1890,"a":6e-4},{"f":1910,"a":2e-4},{"f":1930,"a":5e-4},{"f":1950,"a":1e-4},{"f":1970,"a":4e-4},{"f":1990,"a":2.5e-4},{"f":2010,"a":5e-4},{"f":2030,"a":1.5e-4},{"f":2050,"a":4e-4},{"f":2070,"a":2.5e-4},{"f":2090,"a":5e-4},{"f":2110,"a":1e-4},{"f":2130,"a":4e-4},{"f":2150,"a":3e-4},{"f":2170,"a":5e-4},{"f":2190,"a":2e-4},{"f":2210,"a":4.5e-4},{"f":2230,"a":3e-4},{"f":2250,"a":8e-4},{"f":2265,"a":1.5e-3},{"f":2275,"a":2.7e-3},{"f":2288,"a":8e-4},{"f":2305,"a":3e-4},{"f":2325,"a":6e-4},{"f":2345,"a":2e-4},{"f":2365,"a":5e-4},{"f":2385,"a":3e-4},{"f":2405,"a":6e-4},{"f":2425,"a":1.5e-4},{"f":2445,"a":5e-4},{"f":2465,"a":3e-4},{"f":2485,"a":6e-4},{"f":2505,"a":4e-4},{"f":2525,"a":7e-4},{"f":2545,"a":5e-4},{"f":2565,"a":9e-4},{"f":2585,"a":6e-4},{"f":2605,"a":1.1e-3},{"f":2625,"a":8e-4},{"f":2645,"a":1.4e-3},{"f":2665,"a":1e-3},{"f":2685,"a":1.8e-3},{"f":2705,"a":3.5e-3},{"f":2730,"a":1.1e-2},{"f":2750,"a":3e-3},{"f":2770,"a":1.5e-3},{"f":2790,"a":2.5e-3},{"f":2810,"a":1.2e-3},{"f":2830,"a":2.8e-3},{"f":2850,"a":1.6e-3},{"f":2870,"a":3e-3},{"f":2890,"a":1.5e-3},{"f":2910,"a":3.2e-3},{"f":2930,"a":2e-3},{"f":2950,"a":3.5e-3},{"f":2970,"a":1.8e-3},{"f":2990,"a":3e-3},{"f":3010,"a":2.2e-3},{"f":3030,"a":3.5e-3},{"f":3050,"a":2.5e-3},{"f":3070,"a":4e-3},{"f":3090,"a":3e-3},{"f":3110,"a":5e-3},{"f":3130,"a":7e-3},{"f":3150,"a":1.2e-2},{"f":3170,"a":1.8e-2},{"f":3185,"a":2.3e-2},{"f":3200,"a":1.4e-2},{"f":3220,"a":6e-3},{"f":3240,"a":3e-3},{"f":3260,"a":2e-3},{"f":3280,"a":3e-3},{"f":3300,"a":1.5e-3},{"f":3320,"a":2.5e-3},{"f":3340,"a":1.3e-3},{"f":3360,"a":2.8e-3},{"f":3380,"a":1.6e-3},{"f":3400,"a":2.6e-3},{"f":3420,"a":1.4e-3},{"f":3440,"a":2.5e-3},{"f":3460,"a":1.8e-3},{"f":3480,"a":3e-3},{"f":3500,"a":2e-3},{"f":3520,"a":2.8e-3},{"f":3540,"a":1.6e-3},{"f":3560,"a":3e-3},{"f":3580,"a":4e-3},{"f":3600,"a":6e-3},{"f":3620,"a":9e-3},{"f":3640,"a":1.3e-2},{"f":3660,"a":5e-3},{"f":3680,"a":2.5e-3},{"f":3700,"a":1.5e-3},{"f":3720,"a":2.2e-3},{"f":3740,"a":1e-3},{"f":3760,"a":2e-3},{"f":3780,"a":1.2e-3},{"f":3800,"a":1.8e-3},{"f":3820,"a":8e-4},{"f":3840,"a":1.6e-3},{"f":3860,"a":1e-3},{"f":3880,"a":1.5e-3},{"f":3900,"a":7e-4},{"f":3920,"a":1.3e-3},{"f":3940,"a":8e-4},{"f":3960,"a":1.2e-3},{"f":3980,"a":6e-4},{"f":4000,"a":1e-3},{"f":4020,"a":5e-4},{"f":4040,"a":9e-4},{"f":4060,"a":4e-4},{"f":4080,"a":8e-4},{"f":4100,"a":5e-4},{"f":4120,"a":7e-4},{"f":4140,"a":3e-4},{"f":4160,"a":6e-4},{"f":4180,"a":3.5e-4},{"f":4200,"a":5e-4},{"f":4220,"a":2e-4},{"f":4240,"a":4.5e-4},{"f":4260,"a":2.5e-4},{"f":4280,"a":4e-4},{"f":4300,"a":1.5e-4},{"f":4320,"a":3e-4},{"f":4340,"a":1.8e-4},{"f":4360,"a":3e-4},{"f":4380,"a":1.2e-4},{"f":4400,"a":2.5e-4},{"f":4420,"a":1.3e-4},{"f":4440,"a":2.2e-4},{"f":4460,"a":1e-4},{"f":4480,"a":1.8e-4},{"f":4500,"a":1.1e-4},{"f":4520,"a":1.6e-4},{"f":4540,"a":1e-4},{"f":4560,"a":1.4e-4},{"f":4580,"a":1e-4},{"f":4600,"a":1.2e-4},{"f":4620,"a":9e-5}]
},
"concat": [
  {"width": 348, "height": 86, "title": {"text": "Onda", "offset": 10}, "data": {"name": "diap"},
   "mark": {"type": "line", "color": "black", "strokeWidth": 1.5, "interpolate": "natural", "clip": true},
   "encoding": {"x": {"field": "ms", "type": "quantitative", "scale": {"domain": [0, 20], "nice": false}, "axis": {"values": [5, 10, 15], "labelExpr": "'' + datum.value/1000", "title": null}},
    "y": {"field": "y", "type": "quantitative", "scale": {"domain": [-1, 1], "nice": false}, "axis": {"title": "Diapasão", "labels": false, "ticks": false, "titleAngle": 0, "titleAlign": "center", "titleBaseline": "middle", "titleX": -57, "titleY": 43}}}},
  {"width": 348, "height": 86, "title": {"text": "Espectro", "offset": 2}, "data": {"name": "esp1"},
   "mark": {"type": "line", "color": "black", "strokeWidth": 1.2, "clip": true},
   "encoding": {"x": {"field": "f", "type": "quantitative", "scale": {"domain": [0, 8000], "nice": false}, "axis": {"values": [0, 2000, 4000, 6000, 8000], "format": "d", "title": null}},
    "y": {"field": "a", "type": "quantitative", "scale": {"type": "log", "domain": [0.0001, 1], "nice": false}, "axis": {"values": [1, 0.01, 0.0001], "labelExpr": "datum.value > 0.5 ? '10⁰' : datum.value > 0.005 ? '10⁻²' : '10⁻⁴'", "labelFontSize": 18, "labelPadding": 12, "grid": true, "gridColor": "black", "gridDash": [1.5, 12], "title": null}}}},
  {"width": 348, "height": 86, "data": {"name": "flauta"},
   "mark": {"type": "line", "color": "black", "strokeWidth": 1.5, "interpolate": "monotone", "clip": true},
   "encoding": {"x": {"field": "ms", "type": "quantitative", "scale": {"domain": [0, 20], "nice": false}, "axis": {"values": [5, 10, 15], "labelExpr": "'' + datum.value/1000", "title": null}},
    "y": {"field": "y", "type": "quantitative", "scale": {"domain": [-1, 1], "nice": false}, "axis": {"title": "flauta", "labels": false, "ticks": false, "titleAngle": 0, "titleAlign": "center", "titleBaseline": "middle", "titleX": -55, "titleY": 43}}}},
  {"width": 348, "height": 86, "data": {"name": "esp2"},
   "mark": {"type": "line", "color": "black", "strokeWidth": 1.2, "clip": true},
   "encoding": {"x": {"field": "f", "type": "quantitative", "scale": {"domain": [0, 8000], "nice": false}, "axis": {"values": [0, 2000, 4000, 6000, 8000], "format": "d", "title": null}},
    "y": {"field": "a", "type": "quantitative", "scale": {"type": "log", "domain": [0.0001, 1], "nice": false}, "axis": {"values": [1, 0.01, 0.0001], "labelExpr": "datum.value > 0.5 ? '10⁰' : datum.value > 0.005 ? '10⁻²' : '10⁻⁴'", "labelFontSize": 18, "labelPadding": 12, "grid": true, "gridColor": "black", "gridDash": [1.5, 12], "title": null}}}},
  {"width": 348, "height": 86, "data": {"name": "violino"},
   "mark": {"type": "line", "color": "black", "strokeWidth": 1.5, "clip": true},
   "encoding": {"x": {"field": "ms", "type": "quantitative", "scale": {"domain": [0, 20], "nice": false}, "axis": {"values": [5, 10, 15], "labelExpr": "'' + datum.value/1000", "title": null}},
    "y": {"field": "y", "type": "quantitative", "scale": {"domain": [-1, 1], "nice": false}, "axis": {"title": "violino", "labels": false, "ticks": false, "titleAngle": 0, "titleAlign": "center", "titleBaseline": "middle", "titleX": -53, "titleY": 43}}}},
  {"width": 348, "height": 86, "data": {"name": "esp3"},
   "mark": {"type": "line", "color": "black", "strokeWidth": 1.2, "clip": true},
   "encoding": {"x": {"field": "f", "type": "quantitative", "scale": {"domain": [0, 8000], "nice": false}, "axis": {"values": [0, 2000, 4000, 6000, 8000], "format": "d", "title": null}},
    "y": {"field": "a", "type": "quantitative", "scale": {"type": "log", "domain": [0.0001, 1], "nice": false}, "axis": {"values": [1, 0.01, 0.0001], "labelExpr": "datum.value > 0.5 ? '10⁰' : datum.value > 0.005 ? '10⁻²' : '10⁴'", "labelFontSize": 18, "labelPadding": 12, "grid": true, "gridColor": "black", "gridDash": [1.5, 12], "title": null}}}},
  {"width": 348, "height": 86, "data": {"name": "cantor"},
   "mark": {"type": "line", "color": "black", "strokeWidth": 1.5, "interpolate": "monotone", "clip": true},
   "encoding": {"x": {"field": "ms", "type": "quantitative", "scale": {"domain": [0, 20], "nice": false}, "axis": {"values": [5, 10, 15], "labelExpr": "'' + datum.value/1000", "title": "tempo, s", "titlePadding": 4}},
    "y": {"field": "y", "type": "quantitative", "scale": {"domain": [-1, 1], "nice": false}, "axis": {"title": "cantor", "labels": false, "ticks": false, "titleAngle": 0, "titleAlign": "center", "titleBaseline": "middle", "titleX": -52, "titleY": 43}}}},
  {"width": 348, "height": 86, "data": {"name": "esp4"},
   "mark": {"type": "line", "color": "black", "strokeWidth": 1.2, "clip": true},
   "encoding": {"x": {"field": "f", "type": "quantitative", "scale": {"domain": [0, 8000], "nice": false}, "axis": {"values": [0, 2000, 4000, 6000, 8000], "format": "d", "title": "frequência, Hz", "titlePadding": 4}},
    "y": {"field": "a", "type": "quantitative", "scale": {"type": "log", "domain": [0.0001, 1], "nice": false}, "axis": {"values": [1, 0.01, 0.0001], "labelExpr": "datum.value > 0.5 ? '10⁰' : datum.value > 0.005 ? '10⁻²' : '10⁻⁴'", "labelFontSize": 18, "labelPadding": 12, "grid": true, "gridColor": "black", "gridDash": [1.5, 12], "title": null}}}}
]
}
